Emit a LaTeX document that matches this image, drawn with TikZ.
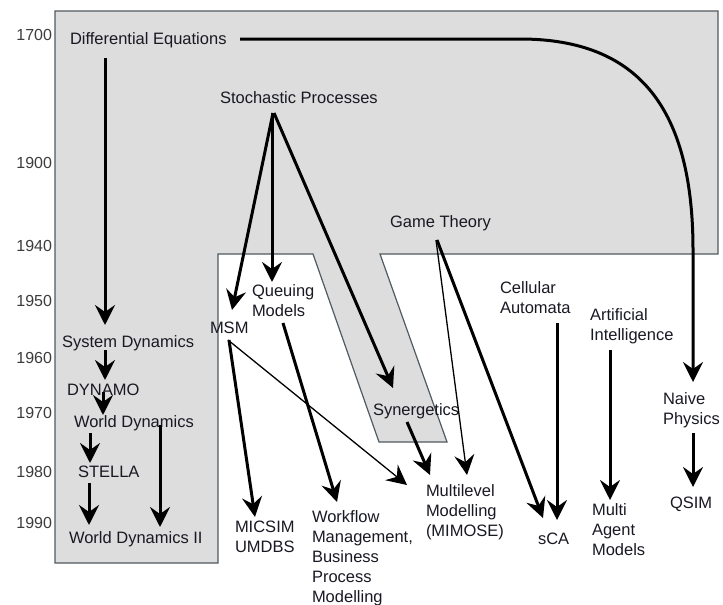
\documentclass[tikz,border=0pt]{standalone}
\usepackage{fontspec}
\setmainfont{Liberation Sans}
\usetikzlibrary{arrows.meta,calc}
\definecolor{bandgray}{RGB}{221,221,221}
\definecolor{edgecol}{RGB}{80,90,96}
\definecolor{txtcol}{RGB}{25,25,35}
\definecolor{yearcol}{RGB}{60,60,60}
\begin{document}
\begin{tikzpicture}[x=1pt,y=-1pt,
  lbl/.style={anchor=north west,inner sep=0pt,outer sep=0pt,align=left,text=txtcol,
    font=\fontsize{16.5}{20}\selectfont},
  yr/.style={anchor=north east,inner sep=0pt,outer sep=0pt,text=yearcol,
    font=\fontsize{16}{20}\selectfont},
  arr/.style={line width=3pt,-{Stealth[length=20pt,width=20pt,inset=7pt]}},
  thinarr/.style={line width=1.3pt,-{Stealth[length=20pt,width=20pt,inset=7pt]}},
  region/.style={fill=bandgray,draw=edgecol,line width=1.2pt,line join=miter}]
\useasboundingbox (0,0) rectangle (723,605);
% gray region
\draw[region] (55,11) -- (718,11) -- (718,254) -- (380,254) -- (447,442) -- (379,442)
  -- (313,254) -- (218,254) -- (218,563) -- (55,563) -- cycle;
% years
\node[yr] (y1700) at (52,29) {1700};
\node[yr] (y1900) at (52,157) {1900};
\node[yr] (y1940) at (52,240) {1940};
\node[yr] (y1950) at (52,295) {1950};
\node[yr] (y1960) at (52,352) {1960};
\node[yr] (y1970) at (52,407) {1970};
\node[yr] (y1980) at (52,466) {1980};
\node[yr] (y1990) at (52,517) {1990};
% labels
\node[lbl] (de) at (70,33) {Differential Equations};
\node[lbl] (sp) at (220,92) {Stochastic Processes};
\node[lbl] (gt) at (390,216) {Game Theory};
\node[lbl] (ca) at (500,282) {Cellular\\Automata};
\node[lbl] (ai) at (590,309) {Artificial\\Intelligence};
\node[lbl] (np) at (663,393) {Naive\\Physics};
\node[lbl] (qs) at (670,497) {QSIM};
\node[lbl] (mam) at (592,504) {Multi\\Agent\\Models};
\node[lbl] (sca) at (538,533) {sCA};
\node[lbl] (ml) at (426,485) {Multilevel\\Modelling\\(MIMOSE)};
\node[lbl] (syn) at (373,404) {Synergetics};
\node[lbl] (wf) at (312,511) {Workflow\\Management,\\Business\\Process\\Modelling};
\node[lbl] (mic) at (235,521) {MICSIM\\UMDBS};
\node[lbl] (qm) at (252,285) {Queuing\\Models};
\node[lbl] (msm) at (210,322) {MSM};
\node[lbl] (sd) at (62,336) {System Dynamics};
\node[lbl] (dyn) at (67,384) {DYNAMO};
\node[lbl] (wd) at (74,416) {World Dynamics};
\node[lbl] (st) at (78,466) {STELLA};
\node[lbl] (wd2) at (69,532) {World Dynamics II};
% arrows
\draw[arr] ($(de.north west)+(35,25)$) -- ($(sd.north west)+(43,-11)$);
\draw[arr] ($(sd.north west)+(43,14)$) -- ($(dyn.north west)+(38,-4)$);
\draw[arr] ($(dyn.north west)+(36,8)$) -- ($(wd.north west)+(29,-1)$);
\draw[arr] ($(wd.north west)+(16,17)$) -- ($(st.north west)+(12,-3)$);
\draw[arr] ($(wd.north west)+(86,9)$) -- ($(wd2.north west)+(91,-5)$);
\draw[arr] ($(st.north west)+(11,17)$) -- ($(wd2.north west)+(20,-7)$);
\draw[arr] ($(sp.north west)+(53,21)$) -- ($(msm.north west)+(22,-12)$);
\draw[arr] ($(sp.north west)+(52,21)$) -- ($(qm.north west)+(20,-3)$);
\draw[arr] ($(sp.north west)+(54,21)$) -- ($(syn.north west)+(20,-16)$);
\draw[thinarr] ($(gt.north west)+(46,24)$) -- ($(ml.north west)+(41,-10)$);
\draw[arr] ($(gt.north west)+(47,24)$) -- ($(sca.north west)+(5,-15)$);
\draw[arr] ($(ca.north west)+(57,41)$) -- ($(sca.north west)+(19,-13)$);
\draw[arr] ($(ai.north west)+(20,41)$) -- ($(mam.north west)+(18,-4)$);
\draw[arr] ($(de.north west)+(170,6)$) -- (520,39) .. controls (640,39) and (693,110) .. (693,250)
  -- ($(np.north west)+(30,-11)$);
\draw[arr] ($(np.north west)+(30,40)$) -- ($(qs.north west)+(23,-10)$);
\draw[arr] ($(syn.north west)+(34,18)$) -- ($(ml.north west)+(4,-10)$);
\draw[thinarr] ($(msm.north west)+(18,18)$) -- ($(ml.north west)+(-19,0)$);
\draw[arr] ($(msm.north west)+(19,18)$) -- ($(mic.north west)+(20,-4)$);
\draw[arr] ($(qm.north west)+(31,38)$) -- ($(wf.north west)+(25,-9)$);
\end{tikzpicture}
\end{document}
